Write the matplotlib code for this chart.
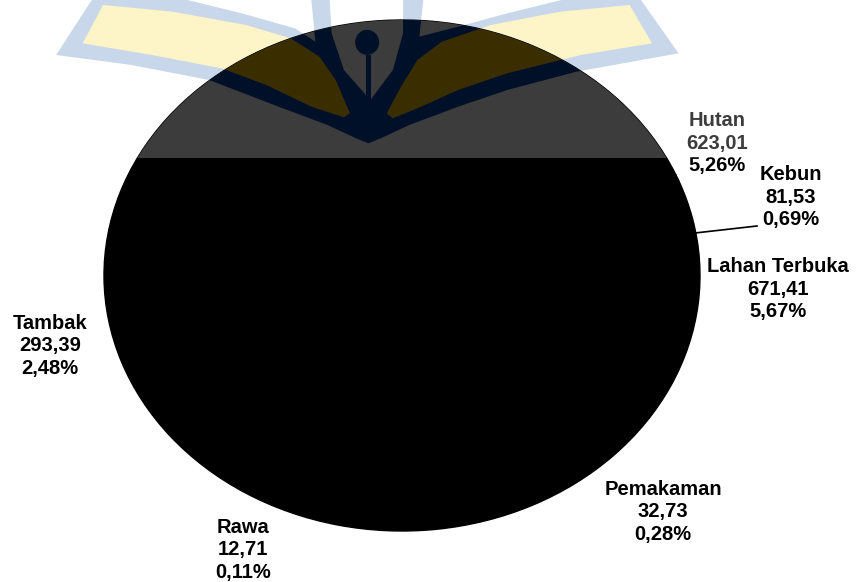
import matplotlib
matplotlib.use("Agg")
import matplotlib.pyplot as plt
from matplotlib.patches import Ellipse, Polygon, Rectangle

plt.rcParams['font.family'] = ['Liberation Sans', 'DejaVu Sans']

W, H = 859, 582

# labelled slices, the big remaining slice has no readable label
categories = ['Hutan', 'Kebun', 'Lahan Terbuka', 'Pemakaman', 'Rawa', 'Tambak']
areas = [623.01, 81.53, 671.41, 32.73, 12.71, 293.39]
percents = ['5,26%', '0,69%', '5,67%', '0,28%', '0,11%', '2,48%']
areas_text = ['623,01', '81,53', '671,41', '32,73', '12,71', '293,39']
other_area = 10130.0

# label centres in pixels
label_x = [717, 791, 778, 663, 243, 50]
label_y = [143, 197, 289, 512, 550, 346]

# pie box in pixels
pie_left, pie_right, pie_top, pie_bottom = 104, 700, 20, 531


def zoomed(points):
    return [(50 + x / 2.45, y / 3) for x, y in points]


logo_body = zoomed([(105, -5), (320, -5), (470, 40), (600, 85), (650, 125), (640, -5), (685, -5),
                    (690, 100), (720, 210), (785, 300), (840, 210), (865, 100), (865, -5), (915, -5),
                    (905, 110), (1000, 80), (1120, 40), (1270, -5), (1445, -5), (1540, 160),
                    (1290, 215), (1120, 270), (1000, 320), (880, 375), (810, 415), (780, 430),
                    (750, 415), (680, 375), (560, 320), (390, 240), (200, 195), (15, 165)])
logo_left = zoomed([(130, 15), (300, 35), (480, 75), (590, 115), (660, 170), (700, 240), (735, 340),
                    (720, 352), (640, 320), (530, 255), (420, 205), (250, 165), (80, 130)])
logo_right = zoomed([(1420, 15), (1250, 35), (1080, 75), (960, 125), (900, 180), (860, 260), (825, 340),
                     (840, 355), (900, 325), (1000, 270), (1120, 220), (1300, 165), (1475, 130)])


def pixel_axes(fig, zorder):
    ax = fig.add_axes([0, 0, 1, 1], zorder=zorder)
    ax.set_xlim(0, W)
    ax.set_ylim(H, 0)
    ax.axis('off')
    return ax


fig = plt.figure(figsize=(W / 100, H / 100), dpi=100, facecolor='white')

# watermark on the white paper
back = pixel_axes(fig, 0)
back.add_patch(Polygon(logo_body, closed=True, fc='#c9d7ea', ec='none'))
back.add_patch(Polygon(logo_left, closed=True, fc='#fdf5c8', ec='none'))
back.add_patch(Polygon(logo_right, closed=True, fc='#fdf5c8', ec='none'))

# pie, stretched to the ellipse of the scan
ax = fig.add_axes([pie_left / W, (H - pie_bottom) / H, (pie_right - pie_left) / W,
                   (pie_bottom - pie_top) / H], zorder=1)
ax.pie(areas + [other_area], colors=['black'] * 7, startangle=65, counterclock=False,
       wedgeprops={'linewidth': 1, 'edgecolor': 'black'})
ax.set_box_aspect(None)
ax.set_aspect('auto')
ax.set_xlim(-1, 1)
ax.set_ylim(-1, 1)
ax.patch.set_visible(False)

# watermark seen through the black pie
front = pixel_axes(fig, 2)
ellipse = Ellipse(((pie_left + pie_right) / 2, (pie_top + pie_bottom) / 2),
                  pie_right - pie_left, pie_bottom - pie_top, fc='none', ec='none')
front.add_patch(ellipse)
shapes = [Rectangle((0, 0), W, 158, fc='#3c3c3c', ec='none'),
          Polygon(logo_body, closed=True, fc='#001028', ec='none'),
          Polygon(logo_left, closed=True, fc='#3a2d00', ec='none'),
          Polygon(logo_right, closed=True, fc='#3a2d00', ec='none'),
          Ellipse((50 + 777 / 2.45, 127 / 3), 24, 25, fc='#001028', ec='none'),
          Rectangle((50 + 775 / 2.45, 165 / 3), 5, 45, fc='#001028', ec='none')]
for shape in shapes:
    front.add_patch(shape)
    shape.set_clip_path(ellipse)

for name, area, pct, x, y in zip(categories, areas_text, percents, label_x, label_y):
    front.text(x, y, f'{name}\n{area}\n{pct}', ha='center', va='center', fontsize=14.5,
               linespacing=1.26, color='black', fontweight='bold')

# the watermark also fades the top of the Hutan label
front.add_patch(Rectangle((675, 100), 90, 58, fc='white', ec='none', alpha=0.24, zorder=5))

# leader line for Kebun
front.plot([695, 757], [233, 226], color='black', lw=1.2)

fig.savefig('out.png', dpi=100)
